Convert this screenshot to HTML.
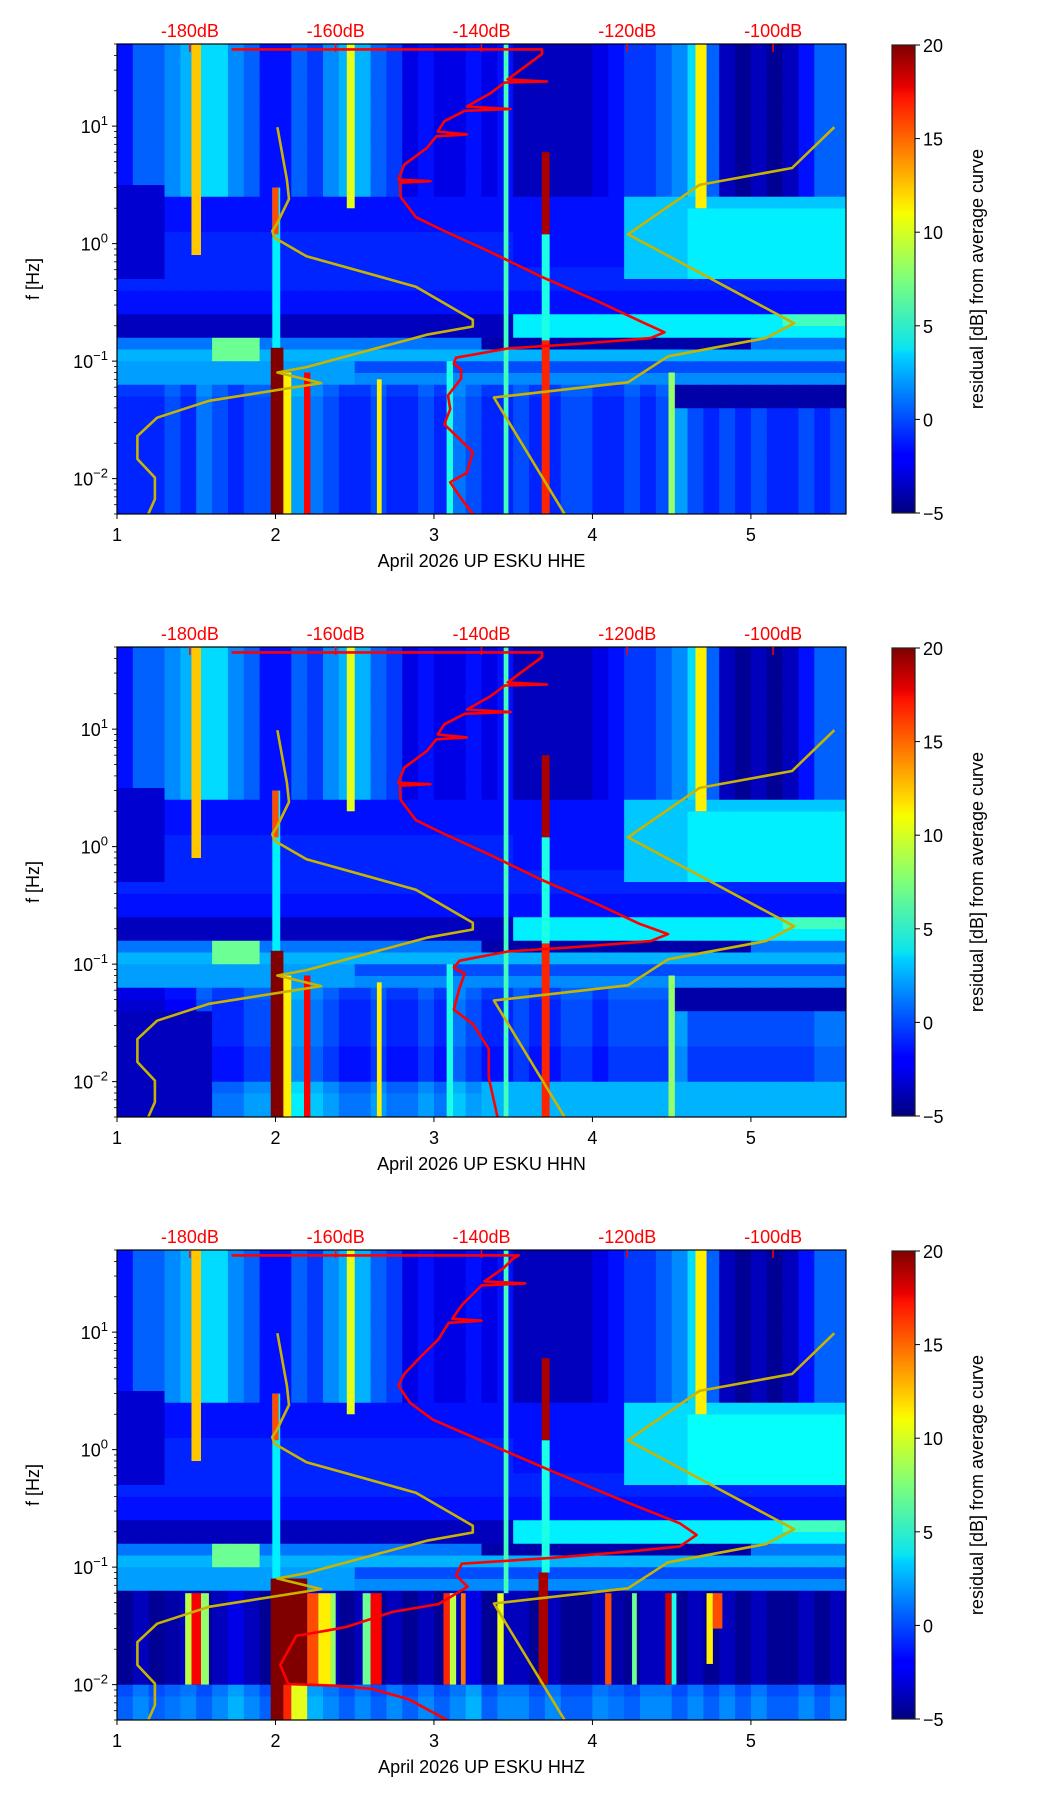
<!DOCTYPE html>
<html><head><meta charset="utf-8"><title>Residual spectrograms ESKU</title>
<style>
html,body{margin:0;padding:0;background:#fff;}
svg{display:block;font-family:"Liberation Sans","DejaVu Sans",sans-serif;}
</style></head>
<body>
<svg id="fig" width="1052" height="1806" viewBox="0 0 1052 1806" xmlns="http://www.w3.org/2000/svg">
<defs>
<linearGradient id="jetgrad" x1="0" y1="1" x2="0" y2="0">
<stop offset="0" stop-color="#00007f"/><stop offset="0.11" stop-color="#0000ff"/><stop offset="0.125" stop-color="#0000ff"/>
<stop offset="0.34" stop-color="#00d4ff"/><stop offset="0.35" stop-color="#0ae4f0"/><stop offset="0.5" stop-color="#7dff7a"/>
<stop offset="0.64" stop-color="#f7ff00"/><stop offset="0.66" stop-color="#ffea00"/><stop offset="0.89" stop-color="#ff1300"/>
<stop offset="0.91" stop-color="#e80000"/><stop offset="1" stop-color="#7f0000"/>
</linearGradient>
</defs>
</svg>
<script>
// ---- shared axis ranges ----
const fMin = 0.005, fMax = 50, xMin = 1, xMax = 5.6, dbMin = -190, dbMax = -90, vMin = -5, vMax = 20;
const xTicks = [1,2,3,4,5];
const dbTicks = [-180,-160,-140,-120,-100];
const cbTicks = [-5,0,5,10,15,20];
const yDecades = [-2,-1,0,1];
const panelTitles = ["April 2026 UP ESKU  HHE","April 2026 UP ESKU  HHN","April 2026 UP ESKU  HHZ"];

// ---- noise model curves (dB, Hz) ----
const lowModelDb = [-168,-166.7,-166.4,-168,-168.7,-168.4,-164,-149,-141.2,-141.2,-147.5,-164,-168,-162,-177.4,-184.5,-187.2,-187.2,-184.8,-184.8,-185.7];
const lowModelF  = [9.8,3.5,2.4,1.5,1.28,1.12,0.78,0.43,0.225,0.197,0.168,0.089,0.08,0.065,0.046,0.033,0.023,0.0147,0.0102,0.0067,0.005];
const highModelDb = [-91.6,-97.4,-110.1,-119.9,-97.1,-101,-114.4,-119.9,-138.3,-128.6];
const highModelF  = [9.8,4.4,3.16,1.2,0.21,0.157,0.11,0.066,0.049,0.005];

// ---- panel 1 (HHE) ----
const p1RedDb = [-174.3,-131.7,-131.7,-133.5,-136.4,-131,-136.8,-138.8,-142,-136,-142.3,-145.1,-146,-142,-146.2,-147.5,-150.6,-151.4,-147,-151.2,-151.1,-149,-145.1,-138.8,-131.7,-123.9,-118.3,-114.9,-116.8,-127,-136.4,-143.5,-143.8,-142.8,-142.8,-144.6,-144.3,-145.1,-143.1,-141.2,-142,-144.3,-142.8,-141.2];
const p1RedF  = [45,45,41,34,25,24,23.5,19,14.7,14,13.5,11,9,8.5,8.2,6.5,4.7,3.5,3.4,3.3,2.5,1.68,1.28,0.85,0.52,0.32,0.22,0.176,0.157,0.14,0.128,0.107,0.095,0.085,0.071,0.051,0.039,0.029,0.022,0.0168,0.0112,0.0093,0.0068,0.005];
const p1RowBase = [-1.5,-1.5,-1.5,-1.5,-1.5,-1.5,-1.5,-1.5,-1.5,-1.5,-1.5,-1.5,-1.5,-1.5,-1.5,-1.5,-1,-1,-1,-1,-1,-1.5,-1.5,-3.5,-3.5,1,2.5,0,1.5,-0.5,-1,-1,-1,-1,-1,-1,-1,-1,-1,-1];
const p1ColHF = [0,2,2,3,4,5,5,3,2,0,0,2,1,3,4,4,2,1,-1,0,-1,-1,0,-1,0,-2,-2,-2,-2,-2,-1,0,1,1,2,3,5,2,-2,-3,-2,-3,-2,0,2,2];
const p1ColLF = [0,0,0,1,0,2,1,0,1,1,0,3,2,1,0,0,1,0,0,1,0,2,1,0,0,1,0,0,1,1,0,0,1,0,1,3,1,0,1,0,1,0,0,1,0,1];
const p1Blobs = [[1.0,1.3,0.5,3,-3],[4.2,5.6,0.45,2.5,3],[4.6,5.6,0.55,1.8,4],[3.5,5.6,0.17,0.26,4],[5.2,5.6,0.19,0.26,6],[3.3,5.0,0.12,0.165,-4],[4.5,5.6,0.042,0.065,-4],[1.0,2.5,0.065,0.1,2],[1.6,1.85,0.11,0.15,7],[3.5,4.2,0.6,2,-1.5]];
const p1Lines = [[1.97,2.05,0.005,0.13,20],[1.98,2.03,0.13,3,4],[1.98,2.02,1.2,3,15],[2.05,2.1,0.005,0.08,11],[2.18,2.22,0.005,0.08,17],[3.68,3.73,1.2,6,19],[3.68,3.73,0.005,0.15,16],[3.68,3.73,0.15,1.2,5],[3.44,3.47,0.005,50,6],[1.47,1.53,0.8,50,12],[2.45,2.5,2,50,10],[4.65,4.72,2,50,11],[2.64,2.67,0.005,0.07,11],[3.08,3.12,0.005,0.1,5],[4.48,4.52,0.005,0.08,8]];

// ---- panel 2 (HHN) ----
const p2RedDb = [-174.3,-131.7,-131.7,-133.5,-136.4,-131,-136.8,-138.8,-142,-136,-142.3,-145.1,-146,-142,-146.2,-147.5,-150.6,-151.4,-147,-151.2,-151.1,-149,-145.1,-138.8,-131.7,-123.9,-118.3,-114.4,-116.8,-127,-136.4,-143,-143.8,-142.3,-143,-143.8,-141.2,-139,-139,-137.8];
const p2RedF  = [45,45,41,34,25,24,23.5,19,14.7,14,13.5,11,9,8.5,8.2,6.5,4.7,3.5,3.4,3.3,2.5,1.68,1.28,0.85,0.52,0.32,0.22,0.18,0.157,0.14,0.128,0.107,0.093,0.083,0.063,0.041,0.031,0.019,0.0108,0.005];
const p2RowBase = [-1.5,-1.5,-1.5,-1.5,-1.5,-1.5,-1.5,-1.5,-1.5,-1.5,-1.5,-1.5,-1.5,-1.5,-1.5,-1.5,-1,-1,-1,-1,-1,-1.5,-1.5,-3.5,-3.5,1,2.5,0,1.5,-0.5,-1,-1,-1,-1,-1.5,-1.5,-1.5,0.5,1,1];
const p2ColHF = [0,2,2,3,4,5,5,3,2,0,0,2,1,3,4,4,2,1,-1,0,-1,-1,0,-1,0,-2,-2,-2,-2,-2,-1,0,1,1,2,3,5,2,-2,-3,-2,-3,-2,0,2,2];
const p2ColLF = [-2,-2,-2,-1,-1,1,0,0,1,1,0,3,2,1,0,0,1,0,0,1,0,2,1,0,0,1,0,0,1,1,0,1,1,1,1,3,1,1,1,1,1,1,1,1,2,2];
const p2Blobs = [[1.0,1.3,0.5,3,-3],[4.2,5.6,0.45,2.5,3],[4.6,5.6,0.55,1.8,4],[3.5,5.6,0.17,0.26,4],[5.2,5.6,0.19,0.26,6],[3.3,5.0,0.12,0.165,-4],[4.5,5.6,0.042,0.065,-4],[1.0,2.5,0.065,0.1,2],[1.6,1.85,0.11,0.15,7],[3.5,4.2,0.6,2,-1.5],[1.0,1.6,0.005,0.04,-3.5],[3.3,5.6,0.005,0.01,2.5]];
const p2Lines = p1Lines;

// ---- panel 3 (HHZ) ----
const p3RedDb = [-174.3,-134.9,-135.7,-137,-139.6,-134,-140,-142.7,-144,-140,-144.5,-145.9,-148.3,-150.6,-151.4,-149.8,-146.7,-141.2,-130.2,-120.7,-112.8,-110.5,-112.8,-120.7,-130.2,-142.7,-143.5,-141.9,-145.9,-152.2,-158.5,-161,-165.4,-167.6,-166.5,-160,-155,-150,-144.7];
const p3RedF  = [45,45,42,35,27,26,25,17,13,12.5,12,8.7,6.2,4.4,3.5,2.5,1.8,1.28,0.65,0.37,0.236,0.188,0.15,0.134,0.12,0.107,0.085,0.068,0.0485,0.0416,0.031,0.029,0.026,0.0147,0.0101,0.0098,0.0092,0.0075,0.005];
const p3RowBase = [-1.5,-1.5,-1.5,-1.5,-1.5,-1.5,-1.5,-1.5,-1.5,-1.5,-1.5,-1.5,-1.5,-1.5,-1.5,-1.5,-1,-1,-1,-1,-1,-1.5,-1.5,-3.5,-3.5,1,2.5,0,1.5,-4.5,-4.5,-4.5,-4.5,-4.5,-4.5,-4.5,-4.5,0,0.5,0.5];
const p3ColHF = [0,2,2,3,4,5,5,3,2,0,0,2,1,3,4,4,2,1,-1,0,-1,-1,0,-1,0,-2,-2,-2,-2,-2,-1,0,1,1,2,3,5,2,-2,-3,-2,-3,-2,0,2,2];
const p3ColLF = [0,1,0,0.5,1,0,1,2,1,0,0,1,2,1,0,1,0,1,0,1,0,1,2,0,1,1,0,1,0,0,1,0.5,0,1,1,0,1,0,1,0,1,0,0,1,0,1];
const p3Blobs = [[1.0,1.3,0.5,3,-3],[4.2,5.6,0.45,2.5,3.5],[4.6,5.6,0.55,1.8,4.5],[3.5,5.6,0.17,0.26,4],[5.2,5.6,0.19,0.26,6],[3.3,5.0,0.12,0.165,-4],[1.0,2.5,0.065,0.1,2],[1.6,1.85,0.11,0.15,7],[3.5,4.2,0.6,2,-1.5]];
const p3Lines = [[1.47,1.53,0.01,0.06,17],[1.43,1.47,0.01,0.06,9],[1.53,1.58,0.01,0.06,8],[1.97,2.2,0.01,0.08,20],[1.97,2.05,0.005,0.01,20],[2.05,2.1,0.005,0.01,16],[2.1,2.2,0.005,0.01,10],[2.2,2.27,0.01,0.06,15],[2.27,2.35,0.01,0.06,11],[2.35,2.38,0.01,0.06,8],[2.6,2.67,0.01,0.06,17],[2.55,2.6,0.01,0.06,7],[3.06,3.1,0.01,0.06,16],[3.1,3.14,0.01,0.06,9],[3.17,3.2,0.01,0.06,14],[3.4,3.44,0.01,0.06,10],[3.66,3.72,0.01,0.09,19],[3.68,3.73,1.2,6,19],[3.68,3.73,0.09,1.2,5],[4.08,4.12,0.01,0.06,15],[4.25,4.28,0.01,0.06,7],[4.46,4.5,0.01,0.06,18],[4.5,4.53,0.01,0.06,5],[4.72,4.76,0.015,0.06,11],[4.76,4.82,0.03,0.06,15],[1.98,2.03,0.08,3,4],[1.98,2.02,1.2,3,15],[3.44,3.47,0.06,50,6],[1.47,1.53,0.8,50,12],[2.45,2.5,2,50,10],[4.65,4.72,2,50,11]];

const panels = [
 {rowBase:p1RowBase,colHF:p1ColHF,colLF:p1ColLF,blobs:p1Blobs,lines:p1Lines,redDb:p1RedDb,redF:p1RedF,lfCut:-1.2},
 {rowBase:p2RowBase,colHF:p2ColHF,colLF:p2ColLF,blobs:p2Blobs,lines:p2Lines,redDb:p2RedDb,redF:p2RedF,lfCut:-1.2},
 {rowBase:p3RowBase,colHF:p3ColHF,colLF:p3ColLF,blobs:p3Blobs,lines:p3Lines,redDb:p3RedDb,redF:p3RedF,lfCut:-1.2}
];

const NS = "http://www.w3.org/2000/svg";
const svg = document.getElementById("fig");
const L = 117, W = 729, H = 470, TOPS = [44,647,1250];
const CBX = 892, CBW = 23;
function mk(tag, attrs, parent){ const e=document.createElementNS(NS,tag); for(const k in attrs) e.setAttribute(k,attrs[k]); (parent||svg).appendChild(e); return e; }
function jet(v){ let t=(v-vMin)/(vMax-vMin); t=Math.max(0,Math.min(1,t));
  const c=x=>Math.round(255*Math.max(0,Math.min(1,x)));
  return "rgb("+c(1.5-Math.abs(4*t-3))+","+c(1.5-Math.abs(4*t-2))+","+c(1.5-Math.abs(4*t-1))+")"; }
const xs = x => L + (x-xMin)/(xMax-xMin)*W;
const dbToX = d => xMin + (d-dbMin)/(dbMax-dbMin)*(xMax-xMin);
const ys = (f,T) => T + (Math.log10(fMax)-Math.log10(f))/(Math.log10(fMax)-Math.log10(fMin))*H;

panels.forEach((p,pi)=>{
  const T = TOPS[pi];
  const g = mk("g",{});
  
  
  const clipId = "clip"+pi;
  const cp = mk("clipPath",{id:clipId},g);
  mk("rect",{x:L,y:T,width:W,height:H},cp);
  const hm = mk("g",{"clip-path":"url(#"+clipId+")"},g);
  
  
  const nR = p.rowBase.length, nC = p.colHF.length;
  const top = Math.log10(fMax), dec = (Math.log10(fMax)-Math.log10(fMin))/nR;
  for(let r=0;r<nR;r++){
    const lfHi = top - r*dec, lfLo = top-(r+1)*dec, lc=(lfHi+lfLo)/2;
    for(let c=0;c<nC;c++){
      const x0 = xMin + c*(xMax-xMin)/nC, x1 = xMin+(c+1)*(xMax-xMin)/nC, xc=(x0+x1)/2;
      let v = p.rowBase[r];
      if(lc > 0.35) v += p.colHF[c];
      if(lc < p.lfCut) v += p.colLF[c];
      p.blobs.forEach(b=>{ if(xc>=b[0]&&xc<=b[1]&&lc>=Math.log10(b[2])&&lc<=Math.log10(b[3])) v=b[4]; });
      const y0 = ys(Math.pow(10,lfHi),T), y1 = ys(Math.pow(10,lfLo),T);
      const cell = mk("rect",{x:xs(x0).toFixed(2),y:y0.toFixed(2),width:(xs(x1)-xs(x0)+0.6).toFixed(2),height:(y1-y0+0.6).toFixed(2),fill:jet(v)},hm);
      
      
    }
  }
  p.lines.forEach(l=>{
    const y0=ys(l[3],T), y1=ys(l[2],T);
    const ln = mk("rect",{x:xs(l[0]).toFixed(2),y:y0.toFixed(2),width:(xs(l[1])-xs(l[0])).toFixed(2),height:(y1-y0).toFixed(2),fill:jet(l[4])},hm);
    
    
  });
  [[lowModelDb,lowModelF,'low-noise-model-curve'],[highModelDb,highModelF,'high-noise-model-curve']].forEach(m=>{
    const pts = m[0].map((d,i)=>xs(dbToX(d)).toFixed(1)+","+ys(m[1][i],T).toFixed(1)).join(" ");
    const pl = mk("polyline",{points:pts,fill:"none",stroke:"#c8b400","stroke-width":2.6,"stroke-linejoin":"round"},hm);
    
    
  });
  const rpts = p.redDb.map((d,i)=>xs(dbToX(d)).toFixed(1)+","+ys(p.redF[i],T).toFixed(1)).join(" ");
  const red = mk("polyline",{points:rpts,fill:"none",stroke:"#ff0000","stroke-width":2.6,"stroke-linejoin":"round"},hm);
  
  
  const fr = mk("rect",{x:L,y:T,width:W,height:H,fill:"none",stroke:"#000","stroke-width":1.2},g);
  
  
  xTicks.forEach(t=>{
    const X=xs(t);
    const tk=mk("line",{x1:X,x2:X,y1:T+H,y2:T+H+5,stroke:"#000","stroke-width":1},g);
    
    
    const tl=mk("text",{x:X,y:T+H+27,"text-anchor":"middle","font-size":18,fill:"#000"},g);
    tl.textContent=t;
    
    
  });
  const xt=mk("text",{x:xs(3.3),y:T+H+53,"text-anchor":"middle","font-size":18,fill:"#000"},g);
  xt.textContent=panelTitles[pi];
  
  
  dbTicks.forEach(d=>{
    const X=xs(dbToX(d));
    const tk=mk("line",{x1:X,x2:X,y1:T,y2:T+8,stroke:"#ff0000","stroke-width":1.5},g);
    
    
    const tl=mk("text",{x:X,y:T-7,"text-anchor":"middle","font-size":18,fill:"#ff0000"},g);
    tl.textContent=d+"dB";
    
    
  });
  for(let e=-3;e<=1;e++){
    for(let m=1;m<10;m++){
      const f=m*Math.pow(10,e); if(f<fMin||f>fMax) continue;
      const Y=ys(f,T);
      const tk=mk("line",{x1:L-(m===1?5:3),x2:L,y1:Y,y2:Y,stroke:"#000","stroke-width":m===1?1:0.8},g);
      
      
    }
  }
  yDecades.forEach(e=>{
    const Y=ys(Math.pow(10,e),T);
    const tl=mk("text",{x:L-9,y:Y+7,"text-anchor":"end","font-size":18,fill:"#000"},g);
    
    
    const a=document.createElementNS(NS,"tspan"); a.textContent="10"; tl.appendChild(a);
    const b=document.createElementNS(NS,"tspan"); b.setAttribute("dy","-8"); b.setAttribute("font-size","13");
    b.textContent=(e<0?"\u2212"+(-e):String(e)); tl.appendChild(b);
  });
  const yt=mk("text",{x:0,y:0,"text-anchor":"middle","font-size":18,fill:"#000",transform:"translate(39,"+(T+H/2)+") rotate(-90)"},g);
  yt.textContent="f [Hz]";
  
  
  const cb=mk("rect",{x:CBX,y:T+1,width:CBW,height:H-2,fill:"url(#jetgrad)",stroke:"#222","stroke-width":1.2},g);
  
  
  cbTicks.forEach(v=>{
    const Y=T+1+(vMax-v)/(vMax-vMin)*(H-2);
    const tk=mk("line",{x1:CBX+CBW,x2:CBX+CBW+5,y1:Y,y2:Y,stroke:"#000","stroke-width":1},g);
    
    
    const tl=mk("text",{x:CBX+CBW+8,y:Y+7,"font-size":18,fill:"#000"},g);
    tl.textContent=(v<0?"\u2212"+(-v):String(v));
    
    
  });
  const cl=mk("text",{x:0,y:0,"text-anchor":"middle","font-size":18,fill:"#000",transform:"translate(983,"+(T+H/2)+") rotate(-90)"},g);
  cl.textContent="residual [dB] from average curve";
  
  
});
</script>
</body></html>
